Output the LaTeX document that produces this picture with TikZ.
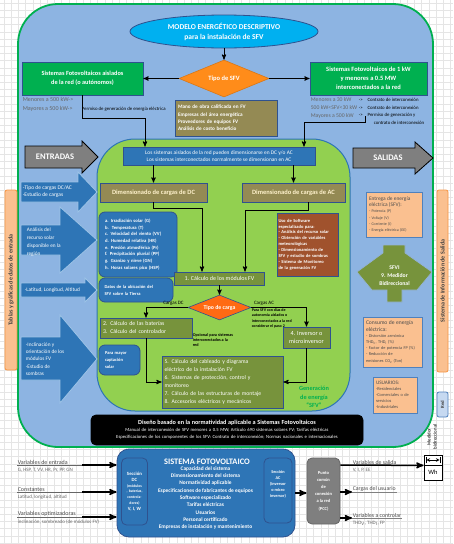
\documentclass[tikz,border=0pt]{standalone}
\usepackage{fontspec}
\setmainfont{Carlito}
\usepackage{tikz}
\usetikzlibrary{arrows,shapes.geometric,positioning}

\definecolor{fondo}{HTML}{8DB4E2}
\definecolor{verde}{HTML}{00B050}
\definecolor{verdecl}{HTML}{92D050}
\definecolor{azul}{HTML}{2E75B6}
\definecolor{azulbd}{HTML}{2F528F}
\definecolor{azulcl}{HTML}{9DC3E6}
\definecolor{azulmed}{HTML}{4F81BD}
\definecolor{olivo}{HTML}{77933C}
\definecolor{cafe}{HTML}{948A54}
\definecolor{crema}{HTML}{FFF2CC}
\definecolor{sienna}{HTML}{A0522D}
\definecolor{naranja}{HTML}{FF8C1A}
\definecolor{naranjabd}{HTML}{F79646}
\definecolor{rojonar}{HTML}{FF6A13}
\definecolor{durazno}{HTML}{FAC090}
\definecolor{cian}{HTML}{00B0F0}
\definecolor{gris}{HTML}{7F7F7F}
\definecolor{celeste}{HTML}{C6D9F1}

\newcommand\tam[2]{\fontsize{#1}{#2}\selectfont}

\begin{document}
\begin{tikzpicture}[x=1pt,y=-1pt,>=stealth',semithick]
    \tikzstyle{cuadro}=[black!10,line width=0.4pt]
    \tikzstyle{caja}=[draw=azulbd,line width=0.8pt,inner sep=1pt,align=center]
    \tikzstyle{verdebox}=[caja,fill=verde,text=white]
    \tikzstyle{olivobox}=[caja,fill=olivo,text=white]
    \tikzstyle{dimbox}=[caja,fill=cafe,text=crema]
    \tikzstyle{redondo}=[caja,fill=azul,rounded corners=6pt,text=white,align=left]
    \tikzstyle{durbox}=[caja,draw=azulmed,fill=durazno,text=black!70,align=left]
    \tikzstyle{flecha}=[fill=azul,draw=azulcl,line width=0.8pt]
    \tikzstyle{flechagris}=[fill=gris,draw=black,line width=0.8pt]
    \tikzstyle{nota}=[inner sep=0.5pt,align=left]
    \tikzstyle{flujo}=[->,line width=0.9pt]
    \tikzstyle{gruesa}=[->,line width=1.5pt]
    \tikzstyle{franja}=[draw=naranjabd,fill=durazno,rounded corners=2pt,line width=0.8pt,rotate=90,text=black!75]

    \useasboundingbox (0,0) rectangle (453,544);
    \fill[white] (0,0) rectangle (453,544);
    \foreach \gx in {4,11.2,...,453} \draw[cuadro] (\gx,0) -- (\gx,544);
    \foreach \gy in {3,10.2,...,544} \draw[cuadro] (0,\gy) -- (453,\gy);

    \draw[fill=fondo,draw=verde,line width=1.8pt,rounded corners=40pt] (18,4) rectangle (433,447);
    \draw[fill=verdecl,draw=azul,line width=1pt,rounded corners=38pt] (97,139) rectangle (350,411);

    \draw[flechagris] (25,146) -- (82,146) -- (82,141) -- (98,157) -- (82,173) -- (82,168) -- (25,168) -- cycle;
    \draw[flechagris] (353,148) -- (415,148) -- (415,142) -- (433,158) -- (415,174) -- (415,168) -- (353,168) -- cycle;
    \draw[flecha] (21,182) -- (78,182) -- (78,172) -- (97,192) -- (78,212) -- (78,202) -- (21,202) -- cycle;
    \draw[flecha] (21,225) -- (60,225) -- (60,207) -- (97,240) -- (60,273) -- (60,255) -- (21,255) -- cycle;
    \draw[flecha] (21,283) -- (85,283) -- (85,278) -- (97,290) -- (85,302) -- (85,297) -- (21,297) -- cycle;
    \draw[flecha] (21,337) -- (60,337) -- (60,315) -- (97,359) -- (60,403) -- (60,380) -- (21,380) -- cycle;
    \draw[fill=olivo,draw=azulmed!60,line width=0.6pt] (383,245) -- (405,245) -- (405,253) -- (432,272) -- (417,290) -- (402,290) -- (402,302) -- (387,302) -- (387,290) -- (372,290) -- (357,272) -- (383,253) -- cycle;

    \node[franja,minimum width=180pt,minimum height=10pt,font={\tam{6}{7}\bfseries}] (TI) at (11,280) {Tablas y gráficas de datos de entrada};
    \node[franja,minimum width=182pt,minimum height=11pt,font={\tam{6}{7}\bfseries}] (TS) at (442.5,281) {Sistema de Información de Salida};
    \node[franja,draw=azulmed,fill=celeste,minimum width=25pt,minimum height=11pt,font={\tam{4.8}{6}\bfseries}] (RED) at (442.5,404.5) {Red};

    \node[ellipse,fill=cian,draw=azulbd,line width=0.8pt,minimum width=188pt,minimum height=33pt,inner sep=0pt,align=center,text=white,font={\tam{7.5}{10}\bfseries}] (E) at (224,31.5) {MODELO ENERGÉTICO DESCRIPTIVO\\para la instalación de SFV};
    \node[diamond,aspect=2.4,fill=naranja,draw=naranja!85!black,minimum width=90pt,minimum height=37pt,inner sep=0pt,text=white,font={\tam{6.5}{8}\bfseries}] (T1) at (224,78.5) {Tipo de SFV};
    \node[verdebox,minimum width=121pt,minimum height=33pt,font={\tam{6.3}{9.5}\bfseries}] (L) at (82.5,78.5) {Sistemas Fotovoltaicos aislados\\de la red (o autónomos)};
    \node[verdebox,minimum width=117pt,minimum height=33pt,font={\tam{6.5}{9}\bfseries}] (R) at (368.5,78.5) {Sistemas Fotovoltaicos de 1 kW\\y menores a 0.5 MW\\interconectados a la red};

    \node[nota,anchor=west,text=black!60,font={\tam{6}{7}}] (N1) at (22,99) {Menores a 500 kW->};
    \node[nota,anchor=west,text=black!60,font={\tam{6}{7}}] (N2) at (22,109) {Mayores a 500 kW->};
    \node[nota,anchor=west,font={\tam{4.8}{6}}] (N3) at (81,109) {Permiso de generación de energía eléctrica};
    \node[nota,anchor=west,text=black!60,font={\tam{5.7}{7}}] (N4) at (310,100) {Menores a 30 kW};
    \node[nota,anchor=west,text=black!60,font={\tam{5.7}{7}}] (N5) at (310,108) {500 kW<SFV<30 kW};
    \node[nota,anchor=west,text=black!60,font={\tam{5.7}{7}}] (N6) at (310,116) {Mayores a 500 kW};
    \node[nota,anchor=west,font={\tam{4.8}{6}}] (N7) at (358,100) {->\hspace{5pt}Contrato de interconexión};
    \node[nota,anchor=west,font={\tam{4.8}{6}}] (N8) at (358,108) {->\hspace{5pt}Contrato de interconexión};
    \node[nota,anchor=north west,font={\tam{4.8}{8}}] (N9) at (358,112.5) {->\hspace{5pt}Permiso de generación y\\\hspace*{15pt}contrato de interconexión};

    \node[caja,fill=cafe,minimum width=102pt,minimum height=36pt,text width=96pt,align=left,text=white,font={\tam{5.2}{7.3}\bfseries}] (MO) at (226,118) {Mano de obra calificada en FV\\Empresas del área energética\\Proveedores de equipos FV\\Análisis de costo beneficio};

    \node[caja,fill=azul,minimum width=192pt,minimum height=18pt,text=white,font={\tam{5.4}{7}}] (S) at (219,156) {Los sistemas aislados de la red pueden dimensionarse en DC y/o AC\\Los sistemas interconectados normalmente se dimensionan en AC};

    \node[text=white,font={\tam{8.5}{10}\bfseries}] (ENT) at (55,157) {ENTRADAS};
    \node[text=white,font={\tam{8.5}{10}\bfseries}] (SAL) at (388,158) {SALIDAS};

    \node[nota,anchor=west,text=white,font={\tam{5.5}{7}}] (IA1) at (22,191.5) {-Tipo de cargas DC/AC\\-Estudio de cargas};
    \node[nota,anchor=west,text=white,font={\tam{5.3}{8}}] (IA2) at (26,242) {Análisis del\\recurso solar\\disponible en la\\región};
    \node[nota,anchor=west,text=white,font={\tam{5.3}{7}}] (IA3) at (24,290) {-Latitud, Longitud, Altitud};
    \node[nota,anchor=west,text=white,font={\tam{5.3}{7.3}}] (IA4) at (25,359) {-Inclinación y\\orientación de los\\módulos FV\\-Estudio de\\sombras};

    \node[dimbox,minimum width=107pt,minimum height=19pt,font={\tam{6.5}{8}\bfseries}] (D1) at (153.5,192.5) {Dimensionado de cargas de DC};
    \node[dimbox,minimum width=103pt,minimum height=19pt,font={\tam{6.5}{8}\bfseries}] (D2) at (293.5,192.5) {Dimensionado de cargas de AC};

    \node[redondo,minimum width=78pt,minimum height=65pt,text width=66pt,font={\tam{4.7}{6.7}\bfseries}] (RB1) at (138,244.5) {a. Irradiación solar (G)\\b.\ \ Temperatura (T)\\c. Velocidad del viento (VV)\\d. Humedad relativa (HR)\\e. Presión atmosférica (Pr)\\f. Precipitación pluvial (PP)\\g. Granizo y nieve (GN)\\h. Horas solares pico (HSP)};
    \node[redondo,minimum width=74pt,minimum height=24pt,text width=63pt,font={\tam{4.5}{7}\bfseries}] (RB2) at (136,290) {Datos de la ubicación del\\SFV sobre la Tierra};
    \node[redondo,minimum width=41pt,minimum height=30pt,text width=29pt,font={\tam{4.5}{7}\bfseries}] (RB3) at (119.5,360) {Para mayor\\captación\\solar};

    \node[caja,fill=sienna,minimum width=61pt,minimum height=63pt,text width=58pt,align=left,text=white,font={\tam{4.5}{5.9}\bfseries}] (SW) at (307.5,244.5) {Uso de Software\\especializado para:\\- Análisis del recurso solar\\- Obtención de variables\\meteorológicas\\- Dimensionamiento de\\SFV y estudio de sombras\\- Sistema de Monitoreo\\de la generación FV};

    \node[olivobox,minimum width=90pt,minimum height=13pt,font={\tam{6}{7}}] (M1) at (219.5,278.5) {1. Cálculo de los módulos FV};
    \node[diamond,aspect=2.5,fill=rojonar,draw=azulbd,line width=0.6pt,minimum width=63pt,minimum height=25pt,inner sep=0pt,text=white,font={\tam{5.8}{7}\bfseries}] (T2) at (219.5,307.5) {Tipo de carga};
    \node[nota,font={\tam{5}{6}}] (CDC) at (173.5,303) {Cargas DC};
    \node[nota,font={\tam{5}{6}}] (CAC) at (264,303) {Cargas AC};
    \node[nota,anchor=north west,font={\tam{4}{5.3}\bfseries}] (PSFV) at (251,308) {Para SFV con días de\\autonomía aislados o\\interconectados a la red\\considerar el paso 2};

    \node[olivobox,minimum width=92pt,minimum height=20pt,text width=86pt,align=left,font={\tam{5.8}{8}}] (B23) at (146,328) {2. Cálculo de las baterías\\3. Cálculo del controlador};
    \node[nota,anchor=north west,font={\tam{4.2}{5}\bfseries}] (OPC) at (192,333) {Opcional para sistemas\\interconectados a la\\red};
    \node[olivobox,minimum width=47pt,minimum height=21pt,font={\tam{6.2}{8}}] (INV) at (306.5,337.5) {4. Inversor o\\microinversor};
    \node[olivobox,minimum width=121pt,minimum height=52pt,text width=116pt,align=left,font={\tam{5.7}{7.9}}] (C58) at (222.5,382) {5. Cálculo del cableado y diagrama\\eléctrico de la instalación FV\\6. Sistemas de protección, control y\\monitoreo\\7. Cálculo de las estructuras de montaje\\8. Accesorios eléctricos y mecánicos};
    \node[nota,align=center,text=verde,font={\tam{6.3}{8.5}\bfseries}] (GEN) at (314,397) {Generación\\de energía\\“SFV”};

    \node[durbox,minimum width=56pt,minimum height=45pt,text width=50pt,font={\tam{4}{6.2}}] (EN) at (394,214.5) {\tam{5.4}{6.2}Entrega de energía\\eléctrica (SFV):\\\tam{4}{6.2}- Potencia (P)\\- Voltaje (V)\\- Corriente (I)\\- Energía eléctrica (EE)};
    \node[nota,align=center,text=white,font={\tam{5.7}{8}\bfseries}] (MDt) at (394.5,276) {SFVI\\9. Medidor\\Bidireccional};
    \node[durbox,minimum width=59pt,minimum height=50pt,text width=53pt,font={\tam{4.3}{6.2}}] (CO) at (392.5,342) {\tam{5.6}{6.2}Consumo de energía\\eléctrica:\\\tam{4.3}{6.2}- Distorsión armónica\\THD\textsubscript{V}, THD\textsubscript{I} (\%)\\- Factor de potencia FP (\%)\\- Reducción de\\emisiones CO\textsubscript{2} (Ton)};
    \node[durbox,minimum width=44pt,minimum height=36pt,text width=38pt,font={\tam{4.4}{5.9}}] (US) at (395,395) {\tam{5.2}{5.9}USUARIOS:\\\tam{4.4}{5.9}-Residenciales\\-Comerciales o de\\servicios\\-Industriales};

    \node[caja,fill=black,draw=black,rounded corners=5pt,minimum width=272pt,minimum height=30pt,text width=268pt,text=white,font={\tam{4.7}{7}}] (BK) at (227,430) {\tam{6.2}{7}\bfseries Diseño basado en la normatividad aplicable a Sistemas Fotovoltaicos\\\tam{4.7}{7}\mdseries Manual de interconexión de SFV menores a 0.5 MW; Artículo 690 sistemas solares FV; Tarifas eléctricas\\Especificaciones de los componentes de los SFV: Contrato de interconexión; Normas nacionales e internacionales};

    \coordinate (k1) at (145,118);
    \coordinate (k2) at (365,116);
    \coordinate (k3) at (304,122);
    \coordinate (k4) at (202,208);
    \coordinate (k5) at (308,210);
    \coordinate (k6) at (245,210);

    \path (E) edge[flujo] (T1)
          (T1) edge[flujo] (L)
               edge[flujo] (R);
    \draw[flujo] (L.south) |- (k1) -- (k1 |- S.north);
    \draw[flujo] (k2) |- (k3) -- (k3 |- S.north);
    \draw[flujo] (S.south -| D1.north) -- (D1.north);
    \draw[flujo] (S.south -| D2.north) -- (D2.north);
    \draw[flujo] (D1.south) |- (k4) -- (k4 |- M1.north);
    \draw[flujo] (k5 |- D2.south) -- (k5) -- (k6) -- (k6 |- M1.north);
    \draw[flujo] (M1.south) -- (T2.north);
    \draw[flujo] (T2.west) -| (B23.north);
    \draw[flujo] (T2.east) -| (INV.north);
    \draw[flujo] (B23.south) |- (C58.west);
    \draw[flujo] (INV.south) |- (C58.east);

    \node[caja,fill=azul,rounded corners=12pt,minimum width=178pt,minimum height=88pt] (SF) at (206,493) {};
    \node[caja,fill=azul,rounded corners=5pt,minimum width=25pt,minimum height=67pt,text width=24pt,text=white,font={\tam{3.8}{5.8}\bfseries}] (SFDC) at (134.5,491.5) {\tam{4.8}{5.8}Sección\\DC\\\tam{3.8}{5.8}(módulos\\, baterías,\\controla-\\dores)\\\tam{4.8}{5.8}V, I, W};
    \node[caja,fill=azul,rounded corners=5pt,minimum width=28pt,minimum height=65pt] (SFAC) at (278,490.5) {};
    \node[nota,align=center,text=white,font={\tam{4.3}{6}\bfseries}] (SFACt) at (278,484) {Sección\\AC\\(inversor\\o micro\\inversor)};
    \node[nota,text=white,font={\tam{8.4}{10}\bfseries}] (SFt) at (207,462) {SISTEMA FOTOVOLTAICO};
    \node[nota,align=center,text=white,font={\tam{5.4}{7.3}\bfseries}] (SFl) at (205.5,498) {Capacidad del sistema\\Dimensionamiento del sistema\\Normatividad aplicable\\Especificaciones de fabricantes de equipos\\Software especializado\\Tarifas eléctricas\\Usuarios\\Personal certificado\\Empresas de instalación y mantenimiento};
    \node[caja,fill=gris,draw=black!60,rounded corners=5pt,minimum width=33pt,minimum height=66pt,text=white,font={\tam{4.5}{7.2}\bfseries}] (PCC) at (323.5,491) {Punto\\común\\de\\conexión\\a la red\\(PCC)};

    \node[nota,anchor=south west,text=black!70,font={\tam{6}{7}}] (V1) at (17,465) {Variables de entrada};
    \node[nota,below right=2.5pt and 0pt of V1.south west,text=black!60,font={\tam{5}{6}}] (V1s) {G, HSP, T, VV, HR, Pr, PP, GN};
    \node[nota,anchor=south west,text=black!70,font={\tam{6}{7}}] (V2) at (17,492) {Constantes};
    \node[nota,below right=2.5pt and 0pt of V2.south west,text=black!60,font={\tam{5}{6}}] (V2s) {Latitud, longitud, altitud};
    \node[nota,anchor=south west,text=black!70,font={\tam{6}{7}}] (V3) at (17,517) {Variables optimizadoras};
    \node[nota,below right=2.5pt and 0pt of V3.south west,text=black!60,font={\tam{5}{6}}] (V3s) {inclinación, sombreado (de módulos FV)};
    \coordinate (u1) at (82,465);
    \coordinate (u2) at (82,492);
    \coordinate (u3) at (82,517);
    \draw[black!60,line width=0.5pt] (V1.south west) -- (u1);
    \draw[black!60,line width=0.5pt] (V2.south west) -- (u2);
    \draw[black!60,line width=0.5pt] (V3.south west) -- (u3);
    \draw[gruesa] (u1) -- (u1 -| SF.west);
    \draw[gruesa] (u2) -- (u2 -| SF.west);
    \draw[gruesa] (u3) -- (u3 -| SF.west);
    \draw[gruesa] (SF.east) -- (SF.east -| PCC.west);

    \node[caja,draw=black,fill=white,inner sep=0pt,minimum width=18pt,minimum height=10pt] (MTa) at (433,460) {};
    \node[caja,draw=black,fill=white,inner sep=0pt,minimum width=18pt,minimum height=15pt,font={\tam{6.5}{7}}] (MTb) at (433,472.5) {Wh};
    \draw[|<->|,>=stealth,line width=0.7pt] ([xshift=2pt]MTa.west) -- ([xshift=-2pt]MTa.east);
    \node[nota,rotate=90,align=center,font={\tam{4.8}{6}}] (MTt) at (432,437) {Medidor\\bidireccional};

    \node[nota,anchor=south west,text=black!70,font={\tam{5.8}{7}}] (VS) at (352,465) {Variables de salida};
    \node[nota,below right=2.5pt and 0pt of VS.south west,text=black!60,font={\tam{5}{6}}] (VSs) {V, I, P, EE};
    \node[nota,anchor=south west,text=black!70,font={\tam{5.8}{7}}] (CU) at (352,492) {Cargas del usuario};
    \node[nota,anchor=south west,text=black!70,font={\tam{5.8}{7}}] (VC) at (352,518) {Variables a controlar};
    \node[nota,below right=2.5pt and 0pt of VC.south west,text=black!60,font={\tam{5}{6}}] (VCs) {THD\textsubscript{V}, THD\textsubscript{I}, FP};
    \draw[black!50,line width=0.4pt] (CU.south west) -- (CU.south east);
    \draw[black!50,line width=0.4pt] (VC.south west) -- (VC.south east);
    \draw[gruesa] (PCC.east |- VS.south west) -- (MTa.south west);
    \draw[gruesa] (PCC.east |- CU.south west) -- (CU.south west);
    \draw[gruesa] (PCC.east |- VC.south west) -- (VC.south west);
\end{tikzpicture}
\end{document}
